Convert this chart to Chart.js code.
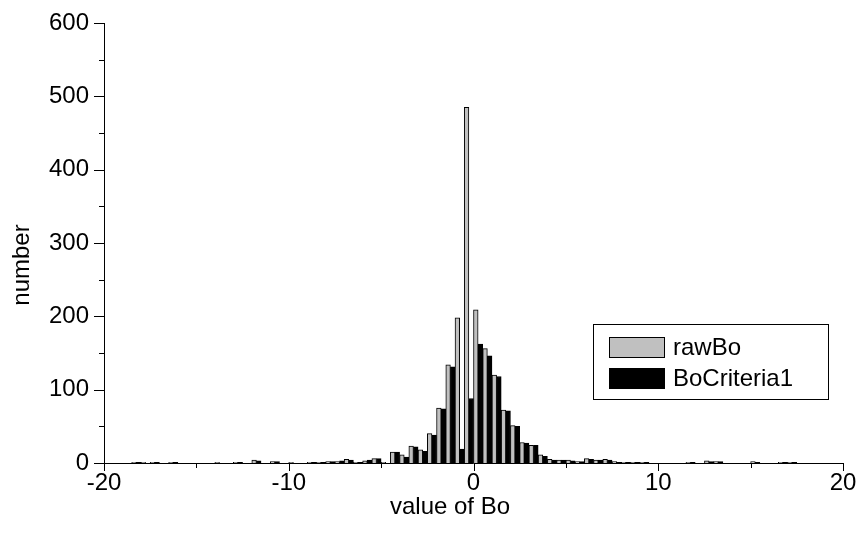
<!DOCTYPE html>
<html>
<head>
<meta charset="utf-8">
<script src="https://cdn.jsdelivr.net/npm/chart.js@4.4.1/dist/chart.umd.min.js"></script>
<style>
    html, body { margin: 0; padding: 0; background: #fff; }
    #wrap { width: 857px; height: 545px; }
</style>
</head>
<body>
<div id="wrap"><canvas id="boChart" width="857" height="545"></canvas></div>
<script>
// histogram bins, 0.5 wide, from -20 to 20
const binWidth = 0.5;
const binStart = -20;
const binCount = 80;
const binCenters = [];
for (let i = 0; i < binCount; i++) binCenters.push(binStart + binWidth * (i + 0.5));

// counts per bin
const rawBo = [
    0, 0, 0, 1, 1, 1, 0, 1, 0, 0,
    0, 0, 1, 0, 1, 0, 4, 0, 2, 0,
    1, 0, 1, 1, 2, 2, 5, 1, 3, 6,
    1, 15, 11, 23, 18, 40, 75, 134, 198, 485,
    209, 156, 120, 72, 51, 28, 24, 11, 5, 4,
    4, 2, 6, 4, 5, 2, 1, 1, 1, 0,
    0, 0, 0, 1, 0, 3, 2, 0, 0, 0,
    2, 0, 0, 1, 1, 0, 0, 0, 0, 0
];
const boCriteria1 = [
    0, 0, 0, 1, 0, 1, 0, 1, 0, 0,
    0, 0, 0, 0, 1, 0, 3, 0, 2, 0,
    0, 0, 1, 1, 2, 3, 4, 1, 4, 6,
    0, 15, 8, 22, 16, 38, 74, 131, 19, 88,
    162, 146, 118, 71, 50, 27, 24, 9, 4, 4,
    3, 2, 5, 4, 4, 1, 1, 1, 1, 0,
    0, 0, 0, 1, 0, 2, 2, 0, 0, 0,
    1, 0, 0, 1, 1, 0, 0, 0, 0, 0
];

const xMin = -20, xMax = 20;
const yMin = 0, yMax = 600;

const FONT = '"Liberation Sans", Arial, Helvetica, sans-serif';
const FONT_SIZE = 24;

// axis lines + ticks (long on labelled values, short in between)
const axisPlugin = {
    id: 'axisPlugin',
    afterDraw(chart) {
        const ctx = chart.ctx;
        const area = chart.chartArea;
        const xs = chart.scales.x, ys = chart.scales.y;
        ctx.save();
        ctx.strokeStyle = '#000';
        ctx.lineWidth = 1;
        ctx.beginPath();
        ctx.moveTo(area.left + 0.5, area.top);
        ctx.lineTo(area.left + 0.5, area.bottom + 0.5);
        ctx.lineTo(area.right, area.bottom + 0.5);
        for (let v = xMin; v <= xMax; v += 5) {
            const px = Math.round(xs.getPixelForValue(v)) + 0.5;
            const len = v % 10 === 0 ? 8 : 5;
            ctx.moveTo(px, area.bottom);
            ctx.lineTo(px, area.bottom + len);
        }
        for (let v = yMin; v <= yMax; v += 50) {
            const py = Math.round(ys.getPixelForValue(v)) + 0.5;
            const len = v % 100 === 0 ? 10 : 5;
            ctx.moveTo(area.left, py);
            ctx.lineTo(area.left - len, py);
        }
        ctx.stroke();

        // axis titles
        ctx.fillStyle = '#000';
        ctx.font = FONT_SIZE + 'px ' + FONT;
        ctx.textAlign = 'center';
        ctx.textBaseline = 'middle';
        ctx.fillText('value of Bo', 450, 507);
        ctx.translate(22, 265);
        ctx.rotate(-Math.PI / 2);
        ctx.fillText('number', 0, 0);
        ctx.restore();
    }
};

// boxed legend inside the plot
const boxLegend = {
    id: 'boxLegend',
    afterDraw(chart) {
        const ctx = chart.ctx;
        const left = 593, top = 324, w = 235, h = 75;
        ctx.save();
        ctx.fillStyle = '#fff';
        ctx.fillRect(left, top, w, h);
        ctx.strokeStyle = '#000';
        ctx.lineWidth = 1;
        ctx.strokeRect(left + 0.5, top + 0.5, w, h);
        ctx.font = FONT_SIZE + 'px ' + FONT;
        ctx.textBaseline = 'middle';
        chart.data.datasets.forEach((ds, i) => {
            const sy = top + 13 + i * 31;
            ctx.fillStyle = ds.backgroundColor;
            ctx.fillRect(609, sy, 55, 20);
            ctx.strokeRect(609.5, sy + 0.5, 55, 20);
            ctx.fillStyle = '#000';
            ctx.fillText(ds.label, 673, sy + 11);
        });
        ctx.restore();
    }
};

new Chart(document.getElementById('boChart'), {
    type: 'bar',
    data: {
        datasets: [
            {
                label: 'rawBo',
                data: binCenters.map((x, i) => ({ x: x, y: rawBo[i] })),
                backgroundColor: '#c0c0c0',
                borderColor: '#000',
                borderWidth: 1,
                categoryPercentage: 1,
                barPercentage: 1
            },
            {
                label: 'BoCriteria1',
                data: binCenters.map((x, i) => ({ x: x, y: boCriteria1[i] })),
                backgroundColor: '#000',
                borderColor: '#000',
                borderWidth: 1,
                categoryPercentage: 1,
                barPercentage: 1
            }
        ]
    },
    options: {
        responsive: false,
        animation: false,
        devicePixelRatio: 1,
        layout: { padding: { top: 23, right: 14, bottom: 0, left: 0 } },
        plugins: {
            legend: { display: false },
            tooltip: { enabled: false }
        },
        scales: {
            x: {
                type: 'linear',
                min: xMin,
                max: xMax,
                offset: false,
                grid: { display: false, drawTicks: false },
                border: { display: false },
                ticks: {
                    stepSize: 5,
                    autoSkip: false,
                    maxRotation: 0,
                    padding: 6,
                    color: '#000',
                    font: { family: FONT, size: FONT_SIZE },
                    callback: v => (v % 10 === 0 ? String(v) : '')
                },
                afterFit: s => {
                    s.height = 82;
                    s.paddingLeft = 0;
                    s.paddingRight = 0;
                }
            },
            y: {
                min: yMin,
                max: yMax,
                grid: { display: false, drawTicks: false },
                border: { display: false },
                ticks: {
                    stepSize: 100,
                    padding: 15,
                    color: '#000',
                    font: { family: FONT, size: FONT_SIZE }
                },
                afterFit: s => {
                    s.width = 104;
                    s.paddingTop = 0;
                    s.paddingBottom = 0;
                }
            }
        }
    },
    plugins: [axisPlugin, boxLegend]
});
</script>
</body>
</html>
